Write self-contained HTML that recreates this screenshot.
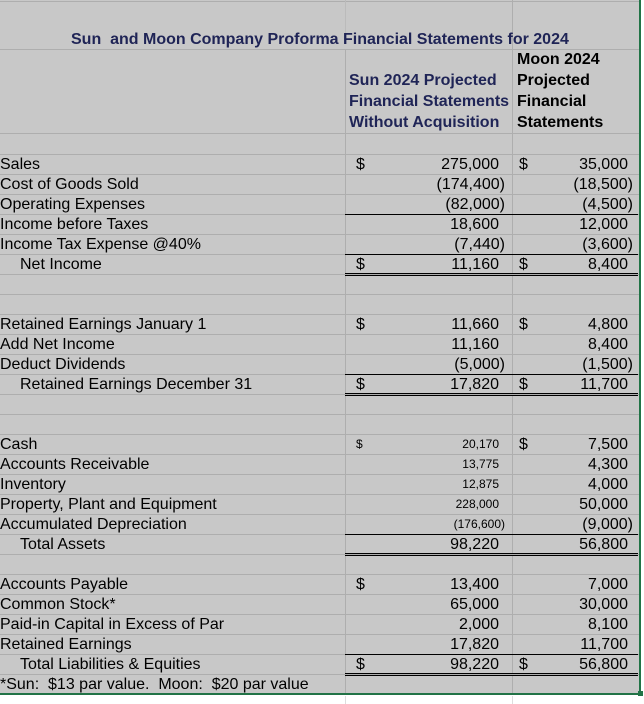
<!DOCTYPE html>
<html><head><meta charset="utf-8"><style>
body{margin:0;width:644px;height:704px;background:#fff;position:relative;overflow:hidden;font-family:"Liberation Sans",Arial,sans-serif;}
#sheet{position:absolute;left:0;top:0;width:640px;height:694px;background:#c8c8c8;}
.hl{position:absolute;left:0;width:640px;height:1px;background:#aeaeae;}
.vl{position:absolute;width:1px;background:#aeaeae;}
.t{position:absolute;font-size:16px;color:#000;white-space:pre;line-height:21px;}
.n{position:absolute;font-size:16px;color:#000;white-space:nowrap;line-height:21px;text-align:right;}
.b{position:absolute;height:1px;background:#000;}
.d{position:absolute;height:3px;border-top:1px solid #000;border-bottom:1px solid #000;box-sizing:border-box;}
.hd{position:absolute;font-weight:bold;font-size:16px;line-height:21px;white-space:nowrap;}
</style></head><body>
<div id="sheet">
<div class="hl" style="top:1px"></div><div class="hl" style="top:49px"></div><div class="hl" style="top:133px"></div>
<div id="grid"></div>
<div class="vl" style="left:345px;top:0;height:40px;background:#bbb"></div>
<div class="vl" style="left:345px;top:49px;height:645px"></div>
<div class="vl" style="left:512px;top:0;height:694px"></div>
<div class="hd" style="left:71px;top:29px;color:#1f2456;white-space:pre">Sun  and Moon Company Proforma Financial Statements for 2024</div>
<div class="hd" style="left:349px;top:70px;color:#1f2456">Sun 2024 Projected<br>Financial Statements<br>Without Acquisition</div>
<div class="hd" style="left:517px;top:49px;color:#000">Moon 2024<br>Projected<br>Financial<br>Statements</div>
<div id="rows"></div>
</div>
<div style="position:absolute;left:0;top:693px;width:640px;height:2px;background:#217346"></div>
<div style="position:absolute;left:639px;top:0;width:2px;height:695px;background:#217346"></div>
<div style="position:absolute;left:638px;top:691px;width:5px;height:5px;background:#217346"></div>
<div class="vl" style="left:345px;top:696px;height:8px;background:#ddd"></div>
<div class="vl" style="left:512px;top:696px;height:8px;background:#ddd"></div>
<script>
const labels=["Sales","Cost of Goods Sold","Operating Expenses","Income before Taxes","Income Tax Expense @40%","Net Income","","","Retained Earnings January 1","Add Net Income","Deduct Dividends","Retained Earnings December 31","","","Cash","Accounts Receivable","Inventory","Property, Plant and Equipment","Accumulated Depreciation","Total Assets","","Accounts Payable","Common Stock*","Paid-in Capital in Excess of Par","Retained Earnings","Total Liabilities & Equities","*Sun:  $13 par value.  Moon:  $20 par value"];
const sunVals=["275,000","(174,400)","(82,000)","18,600","(7,440)","11,160","","","11,660","11,160","(5,000)","17,820","","","20,170","13,775","12,875","228,000","(176,600)","98,220","","13,400","65,000","2,000","17,820","98,220",""];
const moonVals=["35,000","(18,500)","(4,500)","12,000","(3,600)","8,400","","","4,800","8,400","(1,500)","11,700","","","7,500","4,300","4,000","50,000","(9,000)","56,800","","7,000","30,000","8,100","11,700","56,800",""];
const sunDollar=[1,0,0,0,0,1,0,0,1,0,0,1,0,0,1,0,0,0,0,0,0,1,0,0,0,1,0];
const moonDollar=[1,0,0,0,0,1,0,0,1,0,0,1,0,0,1,0,0,0,0,0,0,0,0,0,0,1,0];
const indent=[0,0,0,0,0,1,0,0,0,0,0,1,0,0,0,0,0,0,0,1,0,0,0,0,0,1,0];
const topBorder=[0,0,0,1,0,1,0,0,0,0,0,1,0,0,0,0,0,0,0,1,0,0,0,0,0,1,0];
const dbl=[0,0,0,0,0,1,0,0,0,0,0,1,0,0,0,0,0,0,0,1,0,0,0,0,0,1,0];
const small=[0,0,0,0,0,0,0,0,0,0,0,0,0,0,1,1,1,1,1,0,0,0,0,0,0,0,0];
const grid=document.getElementById('grid'),rows=document.getElementById('rows');
const top0=154,rh=20;
for(let y=top0;y<=694;y+=rh){const l=document.createElement('div');l.className='hl';l.style.top=y+'px';grid.appendChild(l);}
function add(cls,txt,css,name){const e=document.createElement('div');e.className=cls;e.textContent=txt;e.style.cssText=css;


rows.appendChild(e);}
labels.forEach((lab,i)=>{const y=top0+i*rh;
 if(lab)add('t',lab,`left:${indent[i]?20:0}px;top:${y}px`,'row-label');
 const fs=small[i]?'font-size:12px;':'';
 const s=sunVals[i];if(s){const p=s.endsWith(')');add('n',s,`${fs}right:${p?135:141}px;top:${y}px`,'sun-value');}
 const m=moonVals[i];if(m){const p=m.endsWith(')');add('n',m,`right:${p?7:12}px;top:${y}px`,'moon-value');}
 if(sunDollar[i])add('t','$',`${fs}left:356px;top:${y}px`,'sun-dollar');
 if(moonDollar[i])add('t','$',`left:519px;top:${y}px`,'moon-dollar');
 if(topBorder[i]){const b=document.createElement('div');b.className='b';b.style.cssText=`left:345px;width:293px;top:${y}px`;
 
 rows.appendChild(b);}
 if(dbl[i]){const b=document.createElement('div');b.className='d';b.style.cssText=`left:345px;width:293px;top:${y+19}px`;
 
 rows.appendChild(b);}
});
</script>
</body></html>
